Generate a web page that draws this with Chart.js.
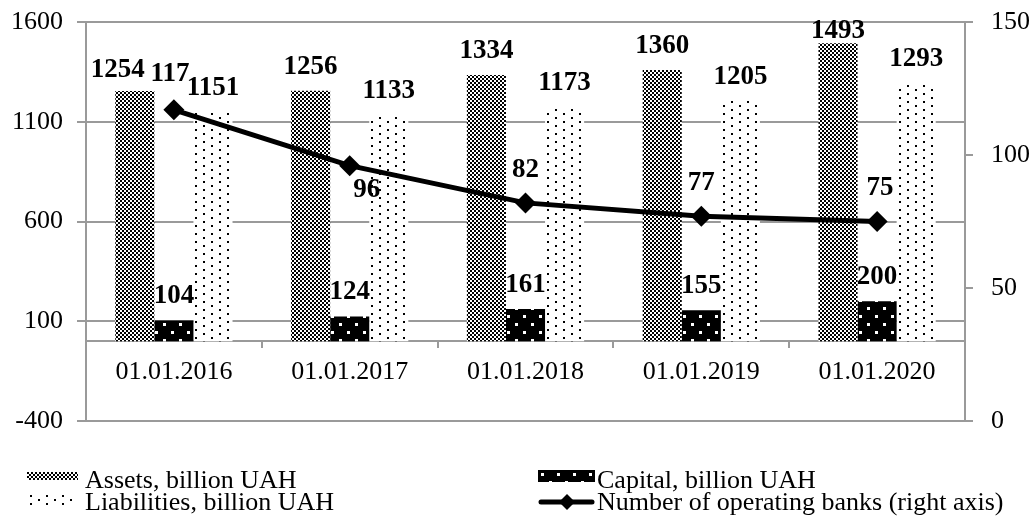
<!DOCTYPE html>
<html><head><meta charset="utf-8">
<script src="https://cdn.jsdelivr.net/npm/chart.js@4.4.1/dist/chart.umd.min.js"></script>
<style>
html,body{margin:0;padding:0;background:#fff;}
#wrap{position:relative;width:1035px;height:520px;overflow:hidden;}
.lg{position:absolute;font-family:"Liberation Serif","Times New Roman",serif;font-size:26px;line-height:22px;color:#000;white-space:nowrap;}
.sw{position:absolute;}
</style></head><body>
<div id="wrap"><canvas id="c" width="1035" height="520"></canvas><div id="legend"></div></div>
<script>
const categories = ['01.01.2016', '01.01.2017', '01.01.2018', '01.01.2019', '01.01.2020'];
const assets = [1254, 1256, 1334, 1360, 1493];
const capital = [104, 124, 161, 155, 200];
const liabilities = [1151, 1133, 1173, 1205, 1293];
const banks = [117, 96, 82, 77, 75];
const seriesNames = ['Assets, billion UAH', 'Capital, billion UAH', 'Liabilities, billion UAH', 'Number of operating banks (right axis)'];

const GRID = '#9a9a9a';
const FONT = '"Liberation Serif", "Times New Roman", serif';

function tile(w, h, bg, fg, rects) {
  const c = document.createElement('canvas');
  c.width = w; c.height = h;
  const x = c.getContext('2d');
  x.fillStyle = bg; x.fillRect(0, 0, w, h);
  x.fillStyle = fg;
  rects.forEach(r => x.fillRect(r[0], r[1], r[2], r[3]));
  return c;
}
const tAssets = tile(4, 4, '#fff', '#000', [[0,0,2,2],[2,2,2,2]]);
const tCapital = tile(16, 16, '#000', '#fff', [[3,3,3,3],[11,11,3,3]]);
const tLiab = tile(16, 8, '#fff', '#000', [[3,1,2,2],[11,5,2,2]]);
const ctx = document.getElementById('c').getContext('2d');
const pAssets = ctx.createPattern(tAssets, 'repeat');
const pCapital = ctx.createPattern(tCapital, 'repeat');
const pLiab = ctx.createPattern(tLiab, 'repeat');

// label placement tweaks (pixel offsets, not data)
const lineLabelPos = [[-4, -29], [17, 31], [0, -26], [0, -26], [3, -27]];
const barLabelShift = { '1-0': [-17, 3] };
const valueLabels = {
  id: 'valueLabels',
  afterDatasetsDraw(chart) {
    const c = chart.ctx;
    const top = chart.chartArea.top;
    c.save();
    c.font = 'bold 27px ' + FONT;
    c.fillStyle = '#000';
    c.textAlign = 'center';
    c.textBaseline = 'alphabetic';
    chart.data.datasets.forEach((ds, di) => {
      const meta = chart.getDatasetMeta(di);
      meta.data.forEach((el, i) => {
        let x = el.x, y;
        if (meta.type === 'bar') {
          y = Math.max(el.y - 17, top + 16);
          const s = barLabelShift[di + '-' + i];
          if (s) { x += s[0]; y += s[1]; }
        } else { x += lineLabelPos[i][0]; y = el.y + lineLabelPos[i][1]; }
        c.fillText(String(ds.data[i]), x, y);
      });
    });
    c.restore();
  }
};

const tickFont = { family: FONT, size: 26 };
const plain = v => String(v);
new Chart(ctx, {
  data: {
    labels: categories,
    datasets: [
      { type: 'line', label: seriesNames[3], data: banks, yAxisID: 'y1', order: 0,
        borderColor: '#000', borderWidth: 5, backgroundColor: '#000',
        pointStyle: 'rectRot', pointRadius: 10.5, pointBackgroundColor: '#000', pointBorderColor: '#000', pointBorderWidth: 0, tension: 0 },
      { type: 'bar', label: seriesNames[0], data: assets, yAxisID: 'y', order: 1, backgroundColor: pAssets, borderWidth: 0, categoryPercentage: 0.667, barPercentage: 1 },
      { type: 'bar', label: seriesNames[1], data: capital, yAxisID: 'y', order: 1, backgroundColor: pCapital, borderWidth: 0, categoryPercentage: 0.667, barPercentage: 1 },
      { type: 'bar', label: seriesNames[2], data: liabilities, yAxisID: 'y', order: 1, backgroundColor: pLiab, borderWidth: 0, categoryPercentage: 0.667, barPercentage: 1 }
    ]
  },
  options: {
    responsive: false,
    animation: false,
    layout: { padding: { top: 22, bottom: 99, left: 0, right: 0 } },
    plugins: { legend: { display: false }, tooltip: { enabled: false } },
    scales: {
      x: {
        type: 'category', position: { y: 0 }, offset: true,
        grid: { display: true, drawOnChartArea: false, drawTicks: true, tickLength: 6, color: GRID, lineWidth: 2, offset: true },
        border: { display: true, color: GRID, width: 2 },
        ticks: { color: '#000', font: tickFont, padding: 9, maxRotation: 0, autoSkip: false }
      },
      y: {
        position: 'left', min: -400, max: 1600,
        ticks: { stepSize: 500, color: '#000', font: tickFont, padding: 14, callback: plain },
        grid: { color: GRID, lineWidth: 2, drawTicks: true, tickLength: 9 },
        border: { display: true, color: GRID, width: 2 },
        afterFit(s) { s.width = 86; s.paddingTop = 0; s.paddingBottom = 0; }
      },
      y1: {
        position: 'right', min: 0, max: 150,
        ticks: { stepSize: 50, color: '#000', font: tickFont, padding: 18, callback: plain },
        grid: { drawOnChartArea: false, color: GRID, lineWidth: 2, drawTicks: true, tickLength: 8 },
        border: { display: true, color: GRID, width: 2 },
        afterFit(s) { s.width = 70; s.paddingTop = 0; s.paddingBottom = 0; }
      }
    }
  },
  plugins: [valueLabels]
});

// Legend (HTML, two columns)
const lg = document.getElementById('legend');
function addText(txt, x, y) {
  const d = document.createElement('div');
  d.className = 'lg'; d.style.left = x + 'px'; d.style.top = y + 'px'; d.textContent = txt;
  lg.appendChild(d);
}
function addSwatch(x, y, w, h, draw) {
  const c = document.createElement('canvas');
  c.width = w; c.height = h; c.className = 'sw';
  c.style.left = x + 'px'; c.style.top = y + 'px';
  draw(c.getContext('2d'), w, h);
  lg.appendChild(c);
}
function patSwatch(t) { return (g, w, h) => { g.fillStyle = g.createPattern(t, 'repeat'); g.fillRect(0, 0, w, h); }; }
addSwatch(27, 472, 51, 8, patSwatch(tAssets));
addText(seriesNames[0], 85, 469);
addSwatch(27, 494, 51, 11, patSwatch(tLiab));
addText(seriesNames[2], 85, 491);
addSwatch(538, 470, 57, 12, patSwatch(tCapital));
addText(seriesNames[1], 597, 469);
addSwatch(538, 492, 57, 20, (g, w, h) => {
  g.strokeStyle = '#000'; g.lineWidth = 5; g.lineCap = 'round';
  g.beginPath(); g.moveTo(3, 10); g.lineTo(w - 3, 10); g.stroke();
  g.fillStyle = '#000'; g.beginPath();
  g.moveTo(29, 2); g.lineTo(37, 10); g.lineTo(29, 18); g.lineTo(21, 10); g.closePath(); g.fill();
});
addText(seriesNames[3], 597, 491);
</script>
</body></html>
